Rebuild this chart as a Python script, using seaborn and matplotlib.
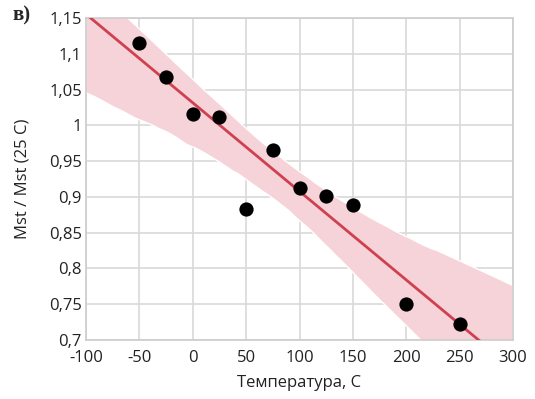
import matplotlib
matplotlib.use("Agg")
import matplotlib.pyplot as plt
import seaborn as sns
import numpy as np
import pandas as pd
from matplotlib.ticker import FuncFormatter

temperature = [-50, -25, 0, 25, 50, 75, 100, 125, 150, 200, 250]
mst_ratio = [1.115, 1.068, 1.016, 1.011, 0.883, 0.965, 0.912, 0.901, 0.889, 0.751, 0.722]
x_ticks = [-100, -50, 0, 50, 100, 150, 200, 250, 300]
y_ticks = [0.7, 0.75, 0.8, 0.85, 0.9, 0.95, 1.0, 1.05, 1.1, 1.15]

df = pd.DataFrame({"t": temperature, "m": mst_ratio})

sns.set_style("white")
plt.rcParams["font.family"] = ["Open Sans", "DejaVu Sans"]

fig = plt.figure(figsize=(5.35, 3.99), dpi=100)
ax = fig.add_axes([86 / 535, 1 - 340 / 399, (513 - 86) / 535, (340 - 18) / 399])

ax.set_xlim(-100, 300)
ax.set_ylim(0.7, 1.15)

sns.regplot(data=df, x="t", y="m", ax=ax, ci=99.6, n_boot=10000, seed=3,
            truncate=False,
            scatter_kws=dict(s=105, color="black", alpha=1.0, zorder=4, linewidths=0),
            line_kws=dict(color="#cf4150", lw=2.0, zorder=3),
            color="#e8a0aa")
for poly in ax.collections[1:]:
    poly.set_facecolor("#f6d3d8")
    poly.set_alpha(1.0)
    poly.set_zorder(1)

ax.set_xlim(-100, 300)
ax.set_ylim(0.7, 1.15)
ax.set_xticks(x_ticks)
ax.set_yticks(y_ticks)

def fmt(v, pos):
    s = f"{v:.2f}".rstrip("0").rstrip(".")
    return s.replace(".", ",")

ax.yaxis.set_major_formatter(FuncFormatter(fmt))
ax.xaxis.set_major_formatter(FuncFormatter(lambda v, p: f"{int(v)}"))

ax.grid(True, color="#d9d9d9", lw=1.2, zorder=0)
ax.set_axisbelow(True)
for sp in ax.spines.values():
    sp.set_color("#cccccc")
    sp.set_linewidth(1.2)

ax.tick_params(axis="both", labelsize=12, colors="#222222", length=0, pad=3)
ax.tick_params(axis="x", pad=7)

ax.set_xlabel("Температура, С", fontsize=12, color="#222222", labelpad=7)
ax.set_ylabel("Mst / Mst (25 C)", fontsize=12, color="#222222", labelpad=13)

fig.text(12 / 535, 1 - 15 / 399, "в)", fontsize=15, fontweight="bold",
         family=["Liberation Serif", "DejaVu Serif"], va="center", ha="left")

fig.savefig("out.png", dpi=100)
